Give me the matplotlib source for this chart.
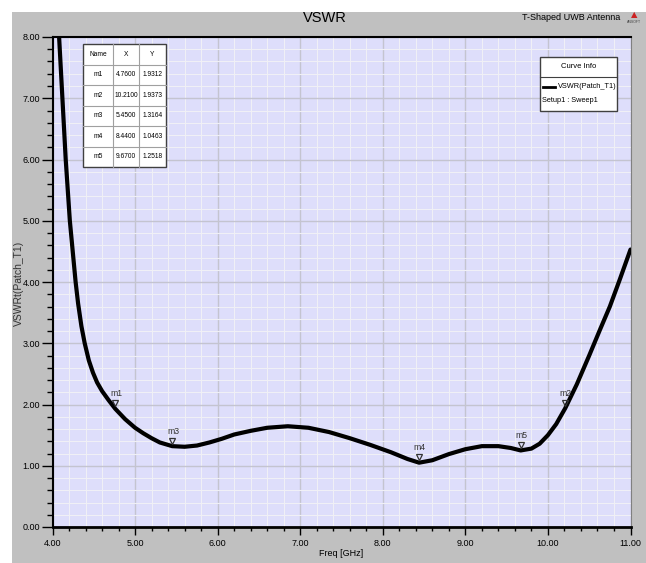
import matplotlib
matplotlib.use("Agg")
import matplotlib.pyplot as plt
from matplotlib.patches import Rectangle
from matplotlib.ticker import MultipleLocator, FormatStrFormatter
import matplotlib.transforms as mtransforms

# VSWR curve
freq = [4.00, 4.08, 4.12, 4.16, 4.21, 4.28, 4.31, 4.35, 4.39, 4.44, 4.49, 4.54, 4.60, 4.68,
        4.76, 4.88, 5.00, 5.10, 5.20, 5.30, 5.45, 5.60, 5.75, 5.90, 6.05, 6.20, 6.40,
        6.60, 6.85, 7.10, 7.35, 7.60, 7.85, 8.10, 8.30, 8.44, 8.60, 8.80, 9.00, 9.20,
        9.40, 9.55, 9.67, 9.80, 9.90, 10.00, 10.10, 10.21, 10.35, 10.50, 10.63, 10.75,
        10.87, 11.00]
vswr = [9.90, 8.00, 7.00, 6.00, 5.00, 4.00, 3.65, 3.28, 3.00, 2.72, 2.52, 2.36, 2.22, 2.07,
        1.93, 1.76, 1.62, 1.53, 1.45, 1.38, 1.32, 1.31, 1.33, 1.38, 1.44, 1.51, 1.57,
        1.62, 1.645, 1.62, 1.55, 1.45, 1.34, 1.22, 1.11, 1.05, 1.09, 1.19, 1.27, 1.32,
        1.32, 1.29, 1.25, 1.28, 1.36, 1.50, 1.68, 1.94, 2.33, 2.80, 3.22, 3.60,
        4.04, 4.53]

# marker table
marker_names = ["m1", "m2", "m3", "m4", "m5"]
marker_x = [4.76, 10.21, 5.45, 8.44, 9.67]
marker_y = [1.9312, 1.9373, 1.3164, 1.0463, 1.2518]

FONT = ["Liberation Sans", "DejaVu Sans"]
plt.rcParams["font.family"] = FONT

fig = plt.figure(figsize=(6.46, 5.63), dpi=100)
fig.patch.set_facecolor("white")
W, H = 646, 563

# gray frame background
fig.patches.append(Rectangle((12 / W, 0), 1, 1 - 12 / H, transform=fig.transFigure,
                             facecolor="#c0c0c0", edgecolor="none", zorder=-10))

ax = fig.add_axes([52.5 / W, 1 - 527 / H, (630.5 - 52.5) / W, (527 - 37) / H], zorder=2)
ax.set_facecolor("#dedefb")
ax.set_xlim(4, 11)
ax.set_ylim(0, 8)

ax.xaxis.set_major_locator(MultipleLocator(1))
ax.xaxis.set_minor_locator(MultipleLocator(0.2))
ax.yaxis.set_major_locator(MultipleLocator(1))
ax.yaxis.set_minor_locator(MultipleLocator(0.2))
ax.xaxis.set_major_formatter(FormatStrFormatter("%.2f"))
ax.yaxis.set_major_formatter(FormatStrFormatter("%.2f"))

ax.grid(which="minor", color="#f0f0f6", lw=0.8)
ax.grid(which="major", color="#c4c4d0", lw=1.0)
ax.set_axisbelow(True)

ax.tick_params(axis="y", which="major", length=8, width=1, pad=1, labelsize=6.5)
ax.tick_params(axis="y", which="minor", length=4, width=1)
ax.tick_params(axis="x", which="major", length=6, width=1, pad=3, labelsize=6.5)
ax.tick_params(axis="x", which="minor", length=3, width=1)

ax.spines["bottom"].set_linewidth(2)
ax.spines["left"].set_linewidth(1.5)
ax.spines["top"].set_linewidth(1.5)
ax.spines["right"].set_color("#808080")

ax.plot(freq, vswr, color="black", lw=3.0, solid_capstyle="round",
        solid_joinstyle="round", zorder=3)

# marker triangles and names
tri = mtransforms.offset_copy(ax.transData, fig=fig, y=4, units="points")
ax.plot(marker_x, marker_y, ls="none", marker="v", ms=4.5, mfc="none", mec="#333333",
        mew=0.9, transform=tri, zorder=4)
for name, mx, my in zip(marker_names, marker_x, marker_y):
    ax.annotate(name, (mx, my), xytext=(0.5, 11), textcoords="offset points",
                ha="center", va="center", fontsize=6.2, color="#333333", zorder=5)

ax.set_xlabel("Freq [GHz]", fontsize=6.5, labelpad=0)

# overlay in pixel coordinates for the title, boxes and labels
ov = fig.add_axes([0, 0, 1, 1], zorder=5)
ov.set_xlim(0, W)
ov.set_ylim(H, 0)
ov.axis("off")

ov.text(325, 18, "VSWR", ha="center", va="center", fontsize=10.5)
ov.text(620, 18, "T-Shaped UWB Antenna", ha="right", va="center", fontsize=6.5)
ov.text(634, 15, "▲", ha="center", va="center", fontsize=6, color="#cc2222",
        family="DejaVu Sans")
ov.text(634, 22, "ANSOFT", ha="center", va="center", fontsize=2.5, color="#444444")
ov.text(19, 283, "VSWRt(Patch_T1)", ha="center", va="center", rotation=90,
        fontsize=7.5, color="#333333")

# marker table
tx0, tx1, ty0, row_h = 83, 166, 44, 20.5
col_x = [83, 113, 139, 166]
n_rows = len(marker_names) + 1
ov.add_patch(Rectangle((tx0, ty0), tx1 - tx0, row_h * n_rows, facecolor="white",
                       edgecolor="#404040", lw=1))
for i in range(1, n_rows):
    ov.plot([tx0, tx1], [ty0 + i * row_h] * 2, color="#a0a0a0", lw=0.8)
for cx in col_x[1:-1]:
    ov.plot([cx, cx], [ty0, ty0 + row_h * n_rows], color="#a0a0a0", lw=0.8)
rows = [["Name", "X", "Y"]] + [[n, "%.4f" % x, "%.4f" % y]
                               for n, x, y in zip(marker_names, marker_x, marker_y)]
for r, row in enumerate(rows):
    for c, val in enumerate(row):
        ov.text((col_x[c] + col_x[c + 1]) / 2, ty0 + (r + 0.5) * row_h, val,
                ha="center", va="center", fontsize=4.8)

# curve info box
ov.add_patch(Rectangle((540, 57), 77, 54, facecolor="white", edgecolor="#404040", lw=1))
ov.plot([540, 617], [77, 77], color="#404040", lw=0.8)
ov.text(578.5, 67, "Curve Info", ha="center", va="center", fontsize=5.5)
ov.plot([543, 555], [87, 87], color="black", lw=2)
ov.text(558, 87, "VSWR(Patch_T1)", ha="left", va="center", fontsize=5.3)
ov.text(542, 100, "Setup1 : Sweep1", ha="left", va="center", fontsize=5.3)

fig.savefig("out.png", dpi=100)
